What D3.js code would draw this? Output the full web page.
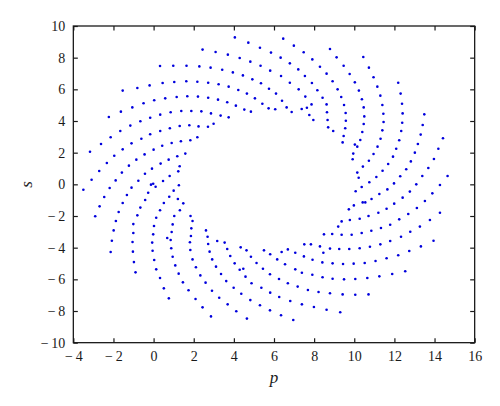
<!DOCTYPE html>
<html>
<head>
<meta charset="utf-8">
<script src="https://cdn.jsdelivr.net/npm/d3@7"></script>
<style>
body { margin: 0; background: #fff; }
</style>
</head>
<body>
<svg id="chart"></svg>
<script>
// tick values
var pTicks = [-4, -2, 0, 2, 4, 6, 8, 10, 12, 14, 16];
var sTicks = [-10, -8, -6, -4, -2, 0, 2, 4, 6, 8, 10];

// [p, s] points, one array per spiral arm
var armA = [[4.05,9.28],[4.72,8.95],[5.30,8.63],[5.85,8.32],[6.33,8.00],[6.79,7.64],[7.21,7.26],[7.54,6.84],[7.89,6.40],[8.16,5.94],[8.42,5.47],[8.62,5.05],[8.64,4.55],[8.67,4.06],[8.70,3.60],[8.95,3.37]];
var armB = [[2.44,8.51],[3.09,8.36],[3.70,8.19],[4.29,7.98],[4.82,7.75],[5.33,7.49],[5.81,7.18],[6.35,6.84],[6.79,6.42],[7.23,6.00],[7.56,5.54],[7.87,5.05],[7.76,4.38],[7.96,4.06]];
var armC = [[0.32,7.47],[0.98,7.49],[1.64,7.49],[2.28,7.45],[2.84,7.37],[3.42,7.24],[3.95,7.07],[4.45,6.88],[4.92,6.63],[5.35,6.38],[5.75,6.04],[6.10,5.73],[6.40,5.28],[6.63,4.86],[6.88,4.57],[7.38,4.76],[7.64,4.84]];
var armD = [[-1.54,5.92],[-0.81,6.08],[-0.20,6.25],[0.45,6.40],[1.03,6.46],[1.63,6.51],[2.18,6.48],[2.72,6.42],[3.24,6.32],[3.74,6.17],[4.22,5.96],[4.65,5.73],[5.05,5.43],[5.42,5.09],[5.73,4.80],[6.06,4.74]];
var armE = [[-2.23,4.25],[-1.63,4.59],[-1.06,4.86],[-0.50,5.12],[0.03,5.31],[0.58,5.43],[1.15,5.52],[1.68,5.56],[2.21,5.54],[2.72,5.47],[3.21,5.35],[3.67,5.18],[4.10,4.97],[4.52,4.72],[4.85,4.59]];
var armF = [[-3.17,2.06],[-2.62,2.55],[-2.14,2.97],[-1.66,3.37],[-1.16,3.71],[-0.66,3.98],[-0.17,4.21],[0.33,4.40],[0.85,4.55],[1.38,4.63],[1.88,4.63],[2.38,4.61],[2.86,4.48],[3.34,4.34],[3.74,4.23]];
var armG = [[-3.50,-0.34],[-3.09,0.29],[-2.71,0.84],[-2.33,1.35],[-1.96,1.81],[-1.54,2.21],[-1.10,2.59],[-0.61,2.88],[-0.17,3.16],[0.33,3.37],[0.81,3.54],[1.30,3.68],[1.78,3.73],[2.24,3.66],[2.71,3.64],[2.99,3.83]];
var armH = [[-2.91,-2.02],[-2.69,-1.39],[-2.46,-0.80],[-2.19,-0.23],[-1.89,0.25],[-1.58,0.74],[-1.23,1.18],[-0.86,1.56],[-0.45,1.89],[0.00,2.19],[0.43,2.44],[0.90,2.61],[1.36,2.72],[1.83,2.78],[2.18,2.97]];
var armI = [[-2.14,-4.27],[-2.08,-3.56],[-1.99,-2.91],[-1.88,-2.32],[-1.74,-1.75],[-1.54,-1.18],[-1.33,-0.67],[-1.10,-0.21],[-0.76,0.23],[-0.43,0.67],[-0.08,0.99],[0.35,1.31],[0.75,1.56],[1.18,1.77],[1.58,1.94]];
var armJ = [[-0.90,-5.56],[-0.98,-4.91],[-1.03,-4.25],[-1.05,-3.64],[-1.01,-3.07],[-1.01,-2.51],[-0.81,-1.96],[-0.66,-1.47],[-0.42,-0.99],[-0.27,-0.53],[-0.13,-0.02],[-0.02,0.04],[0.10,-0.15],[0.47,0.21],[0.80,0.53],[1.23,0.82],[1.30,1.14]];
var armK = [[0.76,-7.20],[0.51,-6.57],[0.32,-5.92],[0.13,-5.37],[0.03,-4.78],[-0.05,-4.19],[-0.07,-3.68],[-0.02,-3.16],[0.02,-2.63],[0.13,-2.11],[0.32,-1.64],[0.51,-1.18],[0.78,-0.78],[1.00,-0.40],[1.26,-0.06]];
var armL = [[2.86,-8.34],[2.44,-7.77],[2.09,-7.24],[1.74,-6.69],[1.46,-6.19],[1.25,-5.64],[1.08,-5.12],[0.95,-4.57],[0.88,-4.04],[0.85,-3.52],[0.68,-3.39],[0.90,-3.01],[0.95,-2.53],[1.03,-2.00],[1.31,-1.64],[1.48,-1.20],[1.21,-0.93]];
var armM = [[4.65,-8.48],[4.12,-8.02],[3.69,-7.58],[3.27,-7.16],[2.91,-6.72],[2.59,-6.21],[2.33,-5.75],[2.11,-5.24],[1.94,-4.74],[1.83,-4.15],[1.81,-3.66],[1.86,-3.26],[1.88,-2.78],[1.94,-2.32],[1.84,-2.00]];
var armN = [[6.96,-8.57],[6.35,-8.27],[5.80,-7.96],[5.30,-7.64],[4.82,-7.31],[4.37,-6.91],[3.99,-6.53],[3.62,-6.11],[3.36,-5.66],[3.11,-5.20],[2.92,-4.74],[2.79,-4.25],[2.72,-3.77],[2.69,-3.31],[2.61,-2.91]];
var armO = [[9.30,-8.08],[8.62,-7.92],[7.99,-7.75],[7.39,-7.58],[6.81,-7.37],[6.26,-7.12],[5.81,-6.84],[5.37,-6.53],[4.88,-6.25],[4.58,-5.83],[4.29,-5.39],[4.47,-5.33],[4.04,-4.99],[3.82,-4.53],[3.67,-4.08],[3.54,-3.68],[3.17,-3.58]];
var armP = [[10.71,-6.95],[10.05,-6.97],[9.42,-6.95],[8.79,-6.88],[8.22,-6.80],[7.69,-6.67],[7.18,-6.46],[6.69,-6.25],[6.25,-5.98],[5.80,-5.68],[5.45,-5.33],[5.13,-4.97],[4.85,-4.57],[4.63,-4.17],[4.34,-3.98]];
var armQ = [[12.54,-5.49],[11.89,-5.66],[11.25,-5.81],[10.65,-5.92],[10.05,-5.98],[9.49,-6.00],[8.92,-5.96],[8.42,-5.87],[7.91,-5.71],[7.39,-5.58],[7.06,-5.37],[6.55,-5.05],[6.16,-4.74],[5.81,-4.42],[5.50,-4.17]];
var armR = [[13.95,-3.56],[13.32,-3.92],[12.74,-4.21],[12.19,-4.48],[11.61,-4.67],[11.06,-4.84],[10.52,-4.97],[9.97,-5.01],[9.44,-5.03],[8.92,-4.99],[8.41,-4.93],[7.92,-4.76],[7.49,-4.55],[7.06,-4.32],[6.69,-4.11],[6.38,-4.27]];
var armS = [[14.27,-1.79],[13.77,-2.25],[13.27,-2.67],[12.79,-2.99],[12.33,-3.31],[11.79,-3.58],[11.30,-3.79],[10.78,-3.94],[10.27,-4.04],[9.75,-4.08],[9.25,-4.08],[8.79,-4.06],[8.29,-3.92],[7.84,-3.79],[7.51,-3.79]];
var armT = [[14.65,0.53],[14.27,-0.04],[13.89,-0.57],[13.52,-1.05],[13.12,-1.49],[12.69,-1.87],[12.24,-2.21],[11.79,-2.55],[11.33,-2.76],[10.85,-2.93],[10.37,-3.07],[9.87,-3.18],[9.37,-3.18],[8.90,-3.14],[8.49,-3.16],[8.46,-4.32]];
var armU = [[14.42,2.91],[14.19,2.25],[13.97,1.60],[13.69,1.03],[13.39,0.53],[13.09,0.00],[12.77,-0.46],[12.41,-0.84],[11.99,-1.22],[11.61,-1.54],[11.20,-1.79],[10.71,-2.00],[10.27,-2.17],[9.78,-2.25],[9.37,-2.34],[9.20,-2.67]];
var armV = [[13.49,4.42],[13.41,3.75],[13.31,3.14],[13.17,2.55],[13.02,2.00],[12.82,1.45],[12.59,0.95],[12.29,0.51],[11.98,0.06],[11.65,-0.32],[11.25,-0.61],[10.86,-0.93],[10.55,-1.14],[10.42,-1.14],[9.98,-1.33],[9.73,-1.58]];
var armW = [[12.19,6.42],[12.31,5.73],[12.38,5.09],[12.41,4.48],[12.39,3.89],[12.34,3.37],[12.24,2.78],[12.09,2.25],[11.93,1.75],[11.69,1.28],[11.41,0.86],[11.10,0.46],[10.75,0.13],[10.37,-0.17],[10.07,-0.44]];
var armX = [[10.45,8.04],[10.73,7.37],[10.96,6.76],[11.15,6.17],[11.30,5.60],[11.40,5.01],[11.45,4.46],[11.46,3.94],[11.40,3.41],[11.31,2.88],[11.16,2.38],[10.96,1.92],[10.73,1.49],[10.43,1.12],[10.15,0.74],[10.22,0.42]];
var armY = [[8.79,8.55],[9.12,8.02],[9.47,7.49],[9.77,6.97],[10.03,6.44],[10.23,5.92],[10.38,5.37],[10.47,4.86],[10.50,4.29],[10.47,3.81],[10.40,3.31],[10.30,2.80],[10.15,2.38],[10.03,2.51],[9.95,1.94],[9.92,1.58]];
var armZ = [[6.46,9.20],[6.99,8.76],[7.48,8.34],[7.91,7.89],[8.29,7.43],[8.62,6.99],[8.92,6.51],[9.17,6.00],[9.35,5.52],[9.49,5.01],[9.57,4.51],[9.58,4.02],[9.55,3.54],[9.47,3.05],[9.42,2.65]];

var arms = [armA, armB, armC, armD, armE, armF, armG, armH, armI, armJ, armK, armL, armM,
            armN, armO, armP, armQ, armR, armS, armT, armU, armV, armW, armX, armY, armZ];

var width = 500;
var height = 406;
var margin = {top: 26, right: 25.33, bottom: 63.33, left: 73.33};

var svg = d3.select("#chart")
    .attr("width", width)
    .attr("height", height);

var xScale = d3.scaleLinear()
    .domain([-4, 16])
    .range([margin.left, width - margin.right]);

var yScale = d3.scaleLinear()
    .domain([-10, 10])
    .range([height - margin.bottom, margin.top]);

var tickLen = 4.5;
// matlab style minus with a little gap
var fmt = function (d) { return d < 0 ? "\u2212\u2009" + Math.abs(d) : String(d); };

// bottom axis with labels, ticks pointing inward
svg.append("g")
    .attr("class", "axis")
    .attr("transform", "translate(0," + yScale(-10) + ")")
    .call(d3.axisBottom(xScale).tickValues(pTicks).tickFormat(fmt).tickSizeInner(-tickLen).tickSizeOuter(0).tickPadding(8));

// left axis with labels
svg.append("g")
    .attr("class", "axis")
    .attr("transform", "translate(" + xScale(-4) + ",0)")
    .call(d3.axisLeft(yScale).tickValues(sTicks).tickFormat(fmt).tickSizeInner(-tickLen).tickSizeOuter(0).tickPadding(8));

// top and right: ticks only
svg.append("g")
    .attr("class", "axis")
    .attr("transform", "translate(0," + yScale(10) + ")")
    .call(d3.axisTop(xScale).tickValues(pTicks).tickSizeInner(-tickLen).tickSizeOuter(0).tickFormat(""));

svg.append("g")
    .attr("class", "axis")
    .attr("transform", "translate(" + xScale(16) + ",0)")
    .call(d3.axisRight(yScale).tickValues(sTicks).tickSizeInner(-tickLen).tickSizeOuter(0).tickFormat(""));

svg.selectAll(".axis .domain").remove();
svg.selectAll(".axis line").attr("stroke", "#1a1a1a").attr("stroke-width", 1.2);
svg.selectAll(".axis text")
    .attr("fill", "#1a1a1a")
    .style("font-family", "'Liberation Serif', 'DejaVu Serif', serif")
    .style("font-size", "14px");

// box
svg.append("rect")
    .attr("x", xScale(-4))
    .attr("y", yScale(10))
    .attr("width", xScale(16) - xScale(-4))
    .attr("height", yScale(-10) - yScale(10))
    .attr("fill", "none")
    .attr("stroke", "#1a1a1a")
    .attr("stroke-width", 1.3);

// points
svg.selectAll(".arm")
    .data(arms)
    .enter().append("g")
    .attr("class", "arm")
    .selectAll("circle")
    .data(function (d) { return d; })
    .enter().append("circle")
    .attr("cx", function (d) { return xScale(d[0]); })
    .attr("cy", function (d) { return yScale(d[1]); })
    .attr("r", 1.3)
    .attr("fill", "#0000dd");

// axis labels
svg.append("text")
    .attr("x", (xScale(-4) + xScale(16)) / 2)
    .attr("y", 383)
    .attr("text-anchor", "middle")
    .style("font-family", "'Liberation Serif', 'DejaVu Serif', serif")
    .style("font-style", "italic")
    .style("font-size", "17px")
    .attr("fill", "#1a1a1a")
    .text("p");

svg.append("text")
    .attr("transform", "translate(32," + yScale(0) + ")rotate(-90)")
    .attr("text-anchor", "middle")
    .style("font-family", "'Liberation Serif', 'DejaVu Serif', serif")
    .style("font-style", "italic")
    .style("font-size", "17px")
    .attr("fill", "#1a1a1a")
    .text("s");
</script>
</body>
</html>
